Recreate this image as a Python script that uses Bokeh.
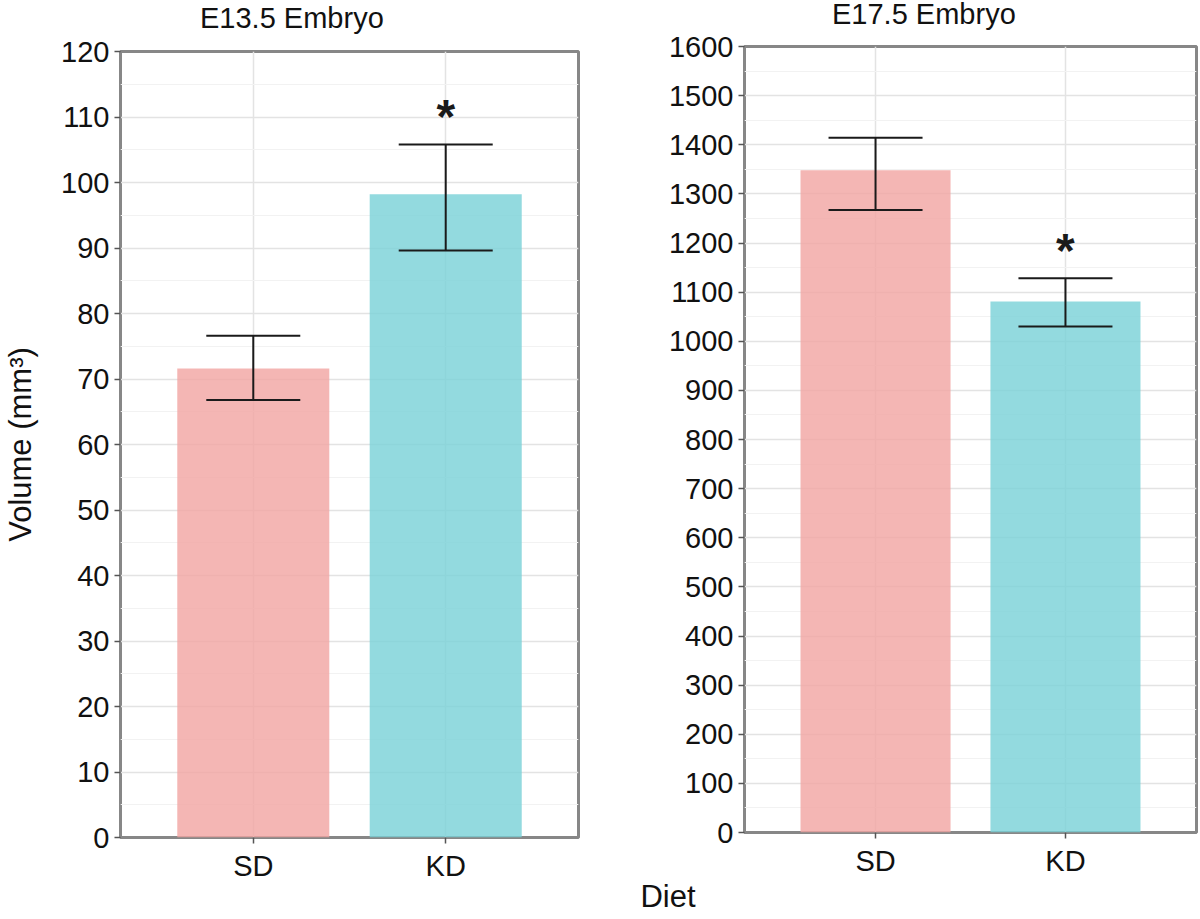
from bokeh.plotting import figure
from bokeh.models import (ColumnDataSource, FixedTicker, Whisker, TeeHead, Range1d, Div)
from bokeh.layouts import row, column
from bokeh.embed import file_html
from bokeh.resources import INLINE
from bokeh.core.properties import value

# ---------------- data ----------------
categories = ["SD", "KD"]
bar_colors = ["#F1A4A1", "#78D1D7"]

e13_title = "E13.5 Embryo"
e13_mean = [71.6, 98.2]
e13_lower = [66.8, 89.6]
e13_upper = [76.6, 105.8]
e13_signif = ["", "*"]
e13_yticks = list(range(0, 121, 10))

e17_title = "E17.5 Embryo"
e17_mean = [1348, 1081]
e17_lower = [1267, 1030]
e17_upper = [1414, 1128]
e17_signif = ["", "*"]
e17_yticks = list(range(0, 1601, 100))

y_label = "Volume (mm³)"
x_label = "Diet"

FONT = "Liberation Sans"


def make_panel(means, lowers, uppers, signif, yticks, width, height,
               mb_left, mb_right, mb_top, mb_bottom, ylab=None):
    xs = [i + 1 for i in range(len(categories))]
    src = ColumnDataSource(dict(x=xs, cat=categories, top=means, lower=lowers,
                                upper=uppers, color=bar_colors, sig=signif))
    step = yticks[1] - yticks[0]
    p = figure(width=width, height=height, output_backend="svg", toolbar_location=None,
               x_range=Range1d(0.31, 2.69), y_range=Range1d(yticks[0], yticks[-1]),
               min_border_left=mb_left, min_border_right=mb_right,
               min_border_top=mb_top, min_border_bottom=mb_bottom)

    p.outline_line_color = "#878787"
    p.outline_line_width = 3
    p.background_fill_color = "white"
    p.border_fill_color = "white"

    # grids
    p.ygrid.ticker = FixedTicker(ticks=yticks,
                                 minor_ticks=[t + step / 2 for t in yticks[:-1]])
    p.ygrid.grid_line_color = "#E3E3E3"
    p.ygrid.grid_line_width = 1.5
    p.ygrid.minor_grid_line_color = "#F2F2F2"
    p.ygrid.minor_grid_line_width = 1.2
    p.xgrid.ticker = FixedTicker(ticks=xs)
    p.xgrid.grid_line_color = "#E3E3E3"
    p.xgrid.grid_line_width = 1.5

    # axes
    p.yaxis.ticker = FixedTicker(ticks=yticks)
    p.xaxis.ticker = FixedTicker(ticks=xs)
    p.xaxis.major_label_overrides = {x: c for x, c in zip(xs, categories)}
    for ax in (p.xaxis, p.yaxis):
        ax.axis_line_color = None
        ax.major_tick_line_color = "#555555"
        ax.major_tick_line_width = 1.5
        ax.major_tick_out = 6
        ax.major_tick_in = 0
        ax.minor_tick_out = 0
        ax.minor_tick_in = 0
        ax.major_label_text_font = FONT
        ax.major_label_text_font_size = "29px"
        ax.major_label_text_color = "#111111"
    p.yaxis.major_label_standoff = 5
    p.xaxis.major_label_standoff = 6
    if ylab:
        p.yaxis.axis_label = ylab
        p.yaxis.axis_label_text_font = FONT
        p.yaxis.axis_label_text_font_size = "31px"
        p.yaxis.axis_label_text_font_style = "normal"
        p.yaxis.axis_label_text_color = "#111111"
        p.yaxis.axis_label_standoff = 20

    p.vbar(x="x", top="top", bottom=0, width=0.79, source=src,
           fill_color="color", fill_alpha=0.8, line_color=None)

    w = Whisker(base="x", lower="lower", upper="upper", source=src,
                line_color="#1a1a1a", line_width=2, level="overlay",
                upper_head=TeeHead(size=94, line_color="#1a1a1a", line_width=2),
                lower_head=TeeHead(size=94, line_color="#1a1a1a", line_width=2))
    p.add_layout(w)

    p.text(x="x", y="upper", text="sig", source=src, text_align="center",
           text_baseline="alphabetic", y_offset=-28,
           text_font=value(FONT), text_font_size="48px", text_font_style="bold",
           text_color="#1a1a1a")
    return p


def title_div(text, width, left, height, line_height):
    return Div(text=text, width=width, height=height, margin=(0, 0, 0, left),
               styles={"font-family": FONT, "font-size": "29px",
                       "line-height": f"{line_height}px",
                       "text-align": "left", "color": "#111111", "white-space": "nowrap"})


p1 = make_panel(e13_mean, e13_lower, e13_upper, e13_signif, e13_yticks,
                width=620, height=853, mb_left=119, mb_right=42, mb_top=15, mb_bottom=52,
                ylab=y_label)
p2 = make_panel(e17_mean, e17_lower, e17_upper, e17_signif, e17_yticks,
                width=580, height=858, mb_left=124, mb_right=4, mb_top=15, mb_bottom=57)

t1 = title_div(e13_title, 420, 200, 36, 36)
t2 = title_div(e17_title, 368, 212, 31, 28)

diet = Div(text=x_label, width=100, height=16, margin=(0, 0, 0, 618),
           styles={"font-family": FONT, "font-size": "31px", "line-height": "16px",
                   "text-align": "center", "color": "#111111"})

layout = column(row(column(t1, p1), column(t2, p2)), diet)
open("out.html", "w").write(file_html(layout, INLINE))
